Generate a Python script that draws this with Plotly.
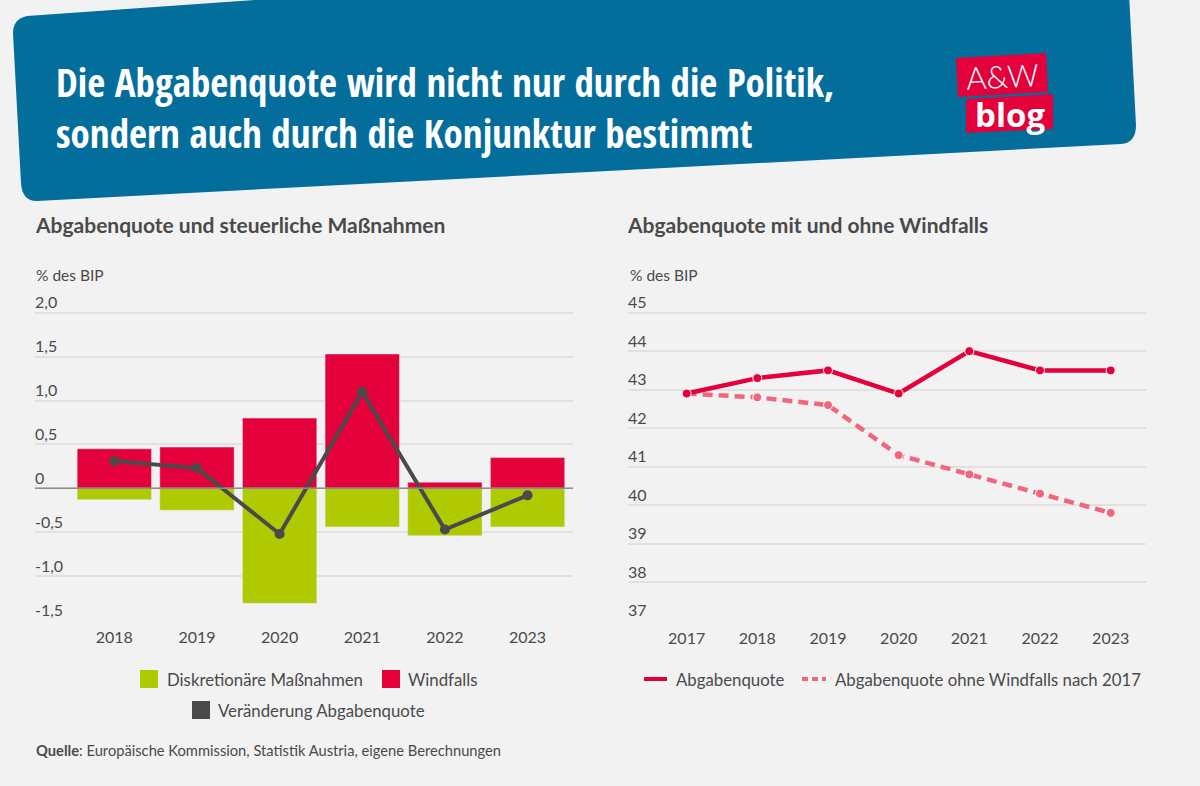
import plotly.graph_objects as go

# left chart
years_left = ["2018", "2019", "2020", "2021", "2022", "2023"]
windfalls = [0.45, 0.47, 0.80, 1.53, 0.07, 0.35]
massnahmen = [-0.13, -0.25, -1.31, -0.44, -0.54, -0.44]
veraenderung = [0.31, 0.23, -0.52, 1.10, -0.47, -0.08]
left_ticks = [2.0, 1.5, 1.0, 0.5, 0, -0.5, -1.0, -1.5]
left_labels = ["2,0", "1,5", "1,0", "0,5", "0", "-0,5", "-1,0", "-1,5"]

# right chart
years_right = ["2017", "2018", "2019", "2020", "2021", "2022", "2023"]
quote = [42.9, 43.3, 43.5, 42.9, 44.0, 43.5, 43.5]
quote_ohne = [42.9, 42.8, 42.6, 41.3, 40.8, 40.3, 39.8]
right_ticks = [45, 44, 43, 42, 41, 40, 39, 38, 37]

BG = "#f2f2f2"
BLUE = "#036d9b"
RED = "#e4003a"
LIGHT_RED = "#f0677c"
GREEN = "#afca00"
DARK = "#4a4a4a"
GRID = "#e1e1e1"
FONT = "Lato"
TITLE_FONT = "Open Sans Condensed, Roboto Condensed, Lato"
W, H = 1200, 786


def px(x):
    return x / W


def py(y):
    return 1 - y / H


fig = go.Figure()

fig.add_trace(go.Bar(x=years_left, y=windfalls, name="Windfalls", marker_color=RED, width=0.9,
                     xaxis="x", yaxis="y", showlegend=False))
fig.add_trace(go.Bar(x=years_left, y=massnahmen, name="Diskretionäre Maßnahmen", marker_color=GREEN, width=0.9,
                     xaxis="x", yaxis="y", showlegend=False))
fig.add_trace(go.Scatter(x=years_left, y=veraenderung, name="Veränderung Abgabenquote", mode="lines+markers",
                         line=dict(color=DARK, width=4), marker=dict(color=DARK, size=10),
                         xaxis="x", yaxis="y", showlegend=False))

fig.add_trace(go.Scatter(x=years_right, y=quote_ohne, name="Abgabenquote ohne Windfalls nach 2017",
                         mode="lines+markers", line=dict(color=LIGHT_RED, width=4.5, dash="10px,6px"),
                         marker=dict(color=LIGHT_RED, size=9, line=dict(color="#ffffff", width=1)),
                         xaxis="x2", yaxis="y2", showlegend=False))
fig.add_trace(go.Scatter(x=years_right, y=quote, name="Abgabenquote", mode="lines+markers",
                         line=dict(color=RED, width=4.5),
                         marker=dict(color=RED, size=9, line=dict(color="#ffffff", width=1)),
                         xaxis="x2", yaxis="y2", showlegend=False))

tick_font = dict(family=FONT, size=16, color=DARK)
y_common = dict(showgrid=True, gridcolor=GRID, gridwidth=1.5, zeroline=False, showline=False,
                ticks="", ticklabelposition="inside", ticklabelshift=-10, ticklabelstandoff=-3, tickfont=tick_font)
x_common = dict(showgrid=False, zeroline=False, showline=False, ticks="", tickfont=tick_font,
                type="category", ticklabelstandoff=6)

# y axes run a bit past the top tick, so the shifted top label is still drawn
fig.update_layout(
    width=W, height=H,
    margin=dict(l=0, r=0, t=0, b=0),
    paper_bgcolor=BG, plot_bgcolor=BG,
    barmode="relative",
    font=dict(family=FONT, color=DARK),
    xaxis=dict(domain=[px(35), px(573)], range=[-0.96, 5.55], anchor="y", **x_common),
    yaxis=dict(domain=[py(620), py(286.4)], range=[-1.5, 2.3], anchor="x",
               tickvals=left_ticks, ticktext=left_labels, **y_common),
    xaxis2=dict(domain=[px(628), px(1146)], range=[-0.83, 6.5], anchor="y2", **x_common),
    yaxis2=dict(domain=[py(620.7), py(285.7)], range=[37, 45.7], anchor="x2",
                tickvals=right_ticks, **y_common),
)

shapes = [
    # blue header
    dict(type="path", xref="paper", yref="paper", layer="below", fillcolor=BLUE, line_width=0,
         path=f"M {px(13)} {py(33)} Q {px(13)} {py(19)} {px(27)} {py(16)} L {px(340)} {py(-6)} "
              f"L {px(1129)} {py(-6)} L {px(1136)} {py(125)} Q {px(1136)} {py(143)} {px(1121)} {py(144)} "
              f"L {px(37)} {py(201)} Q {px(22)} {py(201)} {px(21)} {py(183)} Z"),
    # logo
    dict(type="path", xref="paper", yref="paper", fillcolor=RED, line_width=0,
         path=f"M {px(956)} {py(58)} L {px(1046)} {py(53)} L {px(1048)} {py(92)} L {px(958)} {py(97)} Z"),
    dict(type="path", xref="paper", yref="paper", fillcolor=RED, line_width=0,
         path=f"M {px(966)} {py(99)} L {px(1053)} {py(94)} L {px(1053)} {py(129)} L {px(966)} {py(133)} Z"),
    # zero line on top of the bars
    dict(type="line", xref="x domain", yref="y", x0=0, x1=1, y0=0, y1=0, layer="above",
         line=dict(color="#8c8c8c", width=1.5)),
]

# legend squares
for x0, y0, col in [(140, 670, GREEN), (382, 670, RED), (192, 701, DARK)]:
    shapes.append(dict(type="rect", xref="paper", yref="paper", x0=px(x0), x1=px(x0 + 18), y0=py(y0), y1=py(y0 + 18),
                       fillcolor=col, line_width=0))
# legend lines, right
shapes.append(dict(type="line", xref="paper", yref="paper", x0=px(644), x1=px(667), y0=py(679), y1=py(679),
                   line=dict(color=RED, width=4)))
shapes.append(dict(type="line", xref="paper", yref="paper", x0=px(802), x1=px(826), y0=py(679), y1=py(679),
                   line=dict(color=LIGHT_RED, width=4, dash="6px,4px")))
fig.update_layout(shapes=shapes)


def label(text, x, y, size=16, color=DARK, family=FONT, anchor="left", angle=0):
    fig.add_annotation(text=text, x=px(x), y=py(y), xref="paper", yref="paper", showarrow=False,
                       xanchor=anchor, yanchor="middle", textangle=angle, align="left",
                       font=dict(family=family, size=size, color=color))


label("<b>Die Abgabenquote wird nicht nur durch die Politik,</b>", 54, 82, size=39, color="#ffffff", family=TITLE_FONT)
label("<b>sondern auch durch die Konjunktur bestimmt</b>", 54, 132, size=39, color="#ffffff", family=TITLE_FONT)
label("A&W", 1002, 76, size=31, color="#ffffff", anchor="center", angle=-3, family="Lato Light")
label("<b>blog</b>", 1010, 114, size=33, color="#ffffff", anchor="center", family="Open Sans")

label("<b>Abgabenquote und steuerliche Maßnahmen</b>", 33, 225, size=21)
label("<b>Abgabenquote mit und ohne Windfalls</b>", 625, 225, size=21)
label("% des BIP", 34, 275, size=15.5)
label("% des BIP", 628, 275, size=15.5)

label("Diskretionäre Maßnahmen", 165, 679, size=16.8)
label("Windfalls", 406, 679, size=16.8)
label("Veränderung Abgabenquote", 216, 710, size=16.8)
label("Abgabenquote", 674, 679, size=16.8)
label("Abgabenquote ohne Windfalls nach 2017", 833, 679, size=16.8)
label("<b>Quelle</b>: Europäische Kommission, Statistik Austria, eigene Berechnungen", 34, 750, size=14.7)

fig.write_html("out.html", config={"displayModeBar": False}, post_script="document.body.style.margin='0';")
